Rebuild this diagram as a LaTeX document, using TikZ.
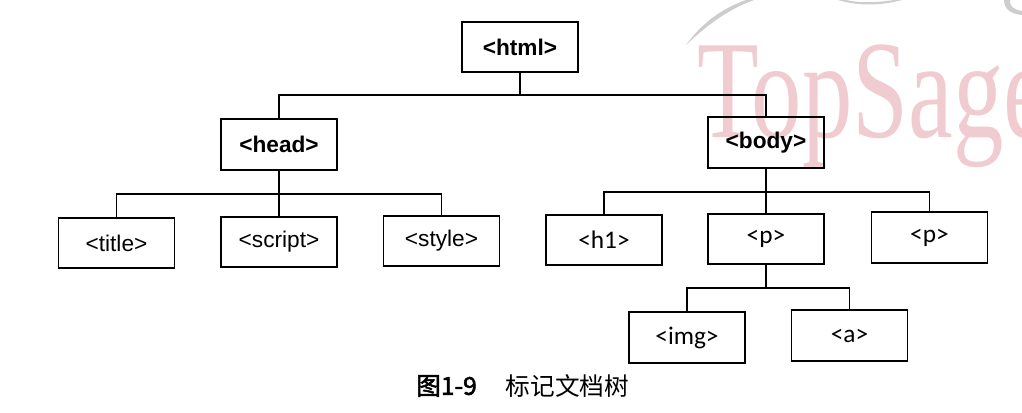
\documentclass[tikz,border=0pt]{standalone}
\usepackage{fontspec}
\setmainfont{Liberation Sans}
\newfontfamily\carlito{Carlito}
\newfontfamily\cjk{Noto Sans CJK SC}
\newfontfamily\cjkbold[FakeBold=2]{Noto Sans CJK SC}
\newfontfamily\wmfont{Liberation Serif}
\definecolor{wmpink}{RGB}{240,204,208}
\definecolor{wmgray}{RGB}{205,205,205}

\begin{document}
\begin{tikzpicture}[x=0.75pt,y=-0.75pt]
		\tikzstyle{Tag}		= [draw, line width=1.4pt, minimum width=87pt, minimum height=38pt, inner sep=0pt, font=\fontsize{17}{20}\selectfont]
		\tikzstyle{Root}	= [Tag, font=\fontsize{17}{20}\selectfont\bfseries]
		\tikzstyle{Leaf}	= [Tag, font=\carlito\fontsize{19}{22}\selectfont]
		\tikzstyle{Link}	= [line width=1.1pt]
		\tikzstyle{Mark}	= [anchor=base west, inner sep=0pt, text=wmpink, xscale=0.72, font=\wmfont\fontsize{105}{110}\selectfont]
		\tikzstyle{Caption}	= [inner sep=0pt, font=\fontsize{18.5}{20}\selectfont]

		\useasboundingbox (0,0) rectangle (1022,413);

		% watermark
		\begin{scope}
			\clip (0,0) rectangle (1022,413);
			\node (mark) at (697,138) [Mark] {TopSage};
			\fill [wmgray] (686,45) .. controls (700,26) and (718,10) .. (746,0) -- (754,0) .. controls (726,10) and (704,28) .. (686,45);
			\fill [wmgray] (838,0) .. controls (858,6) and (880,6) .. (902,0) -- (894,0) .. controls (875,3) and (858,3) .. (846,0);
			\fill [wmgray] (1004,0) .. controls (1004,10) and (1012,14) .. (1022,15) -- (1022,11) .. controls (1014,10) and (1009,6) .. (1010,0);
		\end{scope}

		% tree
		\node (html)   at (520,47)      [Root] {<html>};
		\node (head)   at (279,144.5)   [Root] {<head>};
		\node (body)   at (766,142.5)   [Root] {<body>};
		\node (title)  at (116.5,243)   [Tag]  {<title>};
		\node (script) at (279,242)     [Tag]  {<script>};
		\node (style)  at (441.5,241)   [Tag]  {<style>};
		\node (h1)     at (604,240)     [Leaf] {<h1>};
		\node (p)      at (766,239)     [Leaf] {<p>};
		\node (p2)     at (929.5,237.5) [Leaf] {<p>};
		\node (img)    at (687,337.5)   [Leaf] {<img>};
		\node (a)      at (849.5,335.5) [Leaf] {<a>};

		\coordinate (j0) at (520,95);
		\coordinate (j1) at (279,194);
		\coordinate (j2) at (766,192);
		\coordinate (j3) at (766,288);

		\draw [Link] (html.south) -- (j0);
		\draw [Link] (head.north) |- (j0) -| (body.north);
		\draw [Link] (head.south) -- (j1);
		\draw [Link] (title.north) |- (j1) -| (style.north);
		\draw [Link] (j1) -- (script.north);
		\draw [Link] (body.south) -- (j2);
		\draw [Link] (h1.north) |- (j2) -| (p2.north);
		\draw [Link] (j2) -- (p.north);
		\draw [Link] (p.south) -- (j3);
		\draw [Link] (img.north) |- (j3) -| (a.north);

		% caption
		\node (fig) at (446.5,386) [Caption] {\cjkbold 图1-9};
		\node (cap) at (567.5,386) [Caption] {\cjk 标记文档树};
	\end{tikzpicture}
\end{document}
